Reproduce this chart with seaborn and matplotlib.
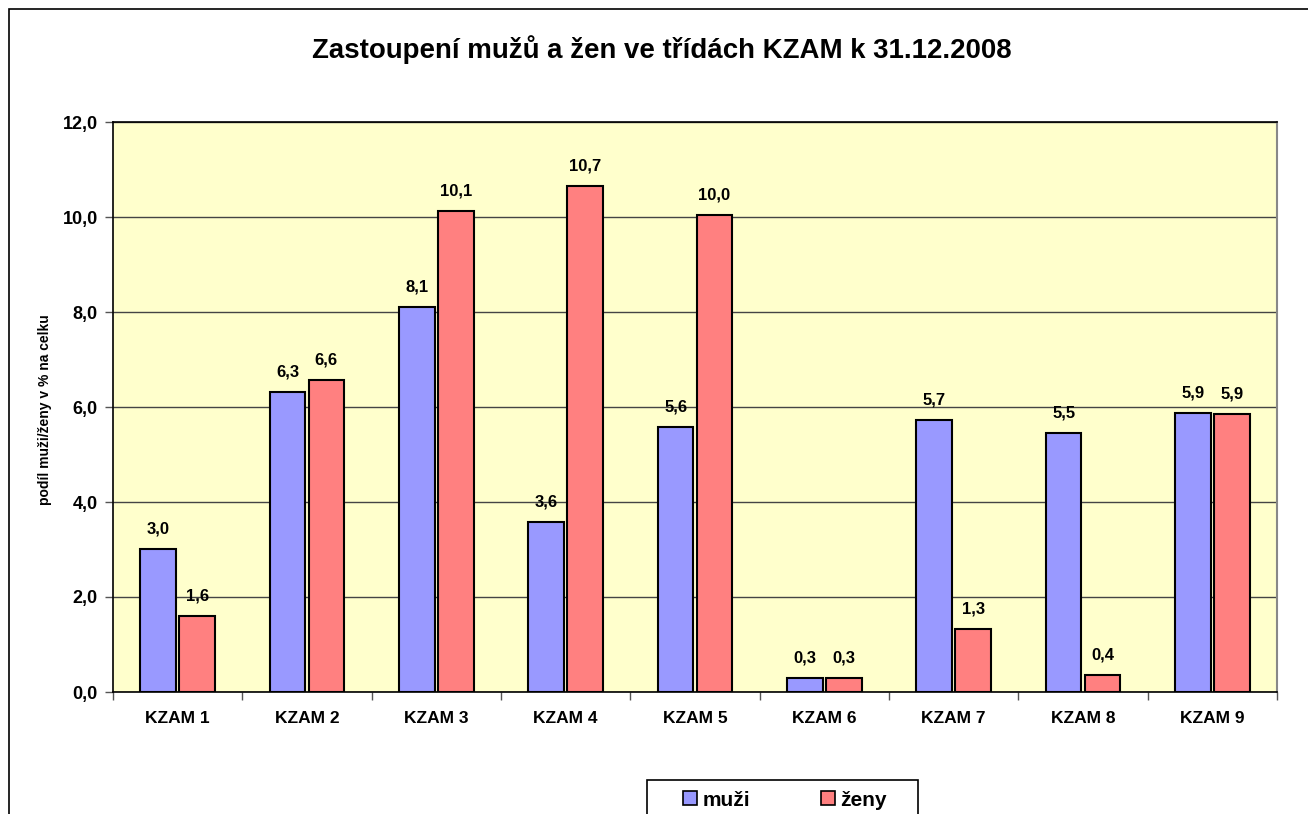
import matplotlib
matplotlib.use("Agg")
import matplotlib.pyplot as plt
import seaborn as sns
import pandas as pd
from matplotlib.patches import Rectangle, Patch
from matplotlib.ticker import FuncFormatter, FixedLocator

categories = ["KZAM 1", "KZAM 2", "KZAM 3", "KZAM 4", "KZAM 5",
              "KZAM 6", "KZAM 7", "KZAM 8", "KZAM 9"]
muzi = [3.02, 6.32, 8.11, 3.58, 5.58, 0.29, 5.73, 5.45, 5.87]
zeny = [1.60, 6.56, 10.13, 10.66, 10.04, 0.29, 1.33, 0.36, 5.86]
series_names = ["muži", "ženy"]
title = "Zastoupení mužů a žen ve třídách KZAM k 31.12.2008"
ylabel = "podíl muži/ženy v % na celku"

sns.set_theme(style="white")
plt.rcParams["font.family"] = ["Liberation Sans", "DejaVu Sans"]
plt.rcParams["font.weight"] = "bold"
plt.rcParams["text.color"] = "black"
plt.rcParams["axes.labelcolor"] = "black"

df = pd.DataFrame({
    "kat": categories * 2,
    "val": muzi + zeny,
    "pohlavi": [series_names[0]] * len(categories) + [series_names[1]] * len(categories),
})
palette = {series_names[0]: "#9999FF", series_names[1]: "#FF8080"}

fig = plt.figure(figsize=(13.08, 8.14), dpi=100)
fig.patch.set_facecolor("white")
ax = fig.add_axes([113/1308, 1-692/814, 1164/1308, 570/814])
ax.set_facecolor("#FFFFCC")

sns.barplot(data=df, x="kat", y="val", hue="pohlavi", palette=palette,
            width=0.6, gap=0.08, edgecolor="black", linewidth=1.5,
            ax=ax, legend=False, saturation=1)

ax.set_ylim(0, 12)
ax.set_xlim(-0.5, len(categories) - 0.5)
ax.set_yticks([0, 2, 4, 6, 8, 10, 12])
ax.yaxis.set_major_formatter(FuncFormatter(lambda v, p: f"{v:.1f}".replace(".", ",")))
ax.yaxis.grid(True, color="#444444", linewidth=1)
ax.set_axisbelow(True)
ax.set_xlabel("")
ax.set_ylabel("")

ax.xaxis.set_minor_locator(FixedLocator([i - 0.5 for i in range(len(categories) + 1)]))
ax.tick_params(axis="x", which="major", length=0, pad=14, labelsize=12.5, labelcolor="black")
ax.tick_params(axis="x", which="minor", length=6, width=1, color="#555555", bottom=True)
ax.tick_params(axis="y", which="major", length=6, width=1, color="#555555", left=True,
               pad=5, labelsize=13, labelcolor="black")
for lab in ax.get_xticklabels() + ax.get_yticklabels():
    lab.set_fontweight("bold")

for s in ["left", "bottom", "top"]:
    ax.spines[s].set_color("black")
    ax.spines[s].set_linewidth(1.2)
ax.spines["right"].set_color("#888888")
ax.spines["right"].set_linewidth(1.5)

for cont in ax.containers:
    labels = [f"{b.get_height():.1f}".replace(".", ",") for b in cont]
    ax.bar_label(cont, labels=labels, padding=9, fontsize=12, fontweight="bold", color="black")

fig.text(662/1308, 1-50/814, title, ha="center", va="center",
         fontsize=19.9, fontweight="bold", color="black")
fig.text(45/1308, 1-410/814, ylabel, ha="center", va="center", rotation=90,
         fontsize=10, fontweight="bold", color="black")

# legend box (extends beyond the bottom edge like the reference)
fig.add_artist(Rectangle((647/1308, -0.05), (918-647)/1308, 0.05 + 1 - 780/814,
                         transform=fig.transFigure, fill=True, facecolor="white",
                         edgecolor="black", linewidth=1.2))
handles = [Patch(facecolor=palette[n], edgecolor="black", linewidth=1.2) for n in series_names]
leg = fig.legend(handles, series_names, loc="center",
                 bbox_to_anchor=(785/1308, 1-800/814), bbox_transform=fig.transFigure,
                 ncol=2, frameon=False, borderaxespad=0, borderpad=0,
                 handlelength=0.67, handleheight=0.67, handletextpad=0.25,
                 columnspacing=3.4,
                 prop={"size": 15, "weight": "bold"})
for t in leg.get_texts():
    t.set_color("black")

fig.add_artist(Rectangle((9/1308, -0.1), 1.2, 1.1 - 9/814, transform=fig.transFigure,
                         fill=False, edgecolor="black", linewidth=1.2))

fig.savefig("out.png", dpi=100)
